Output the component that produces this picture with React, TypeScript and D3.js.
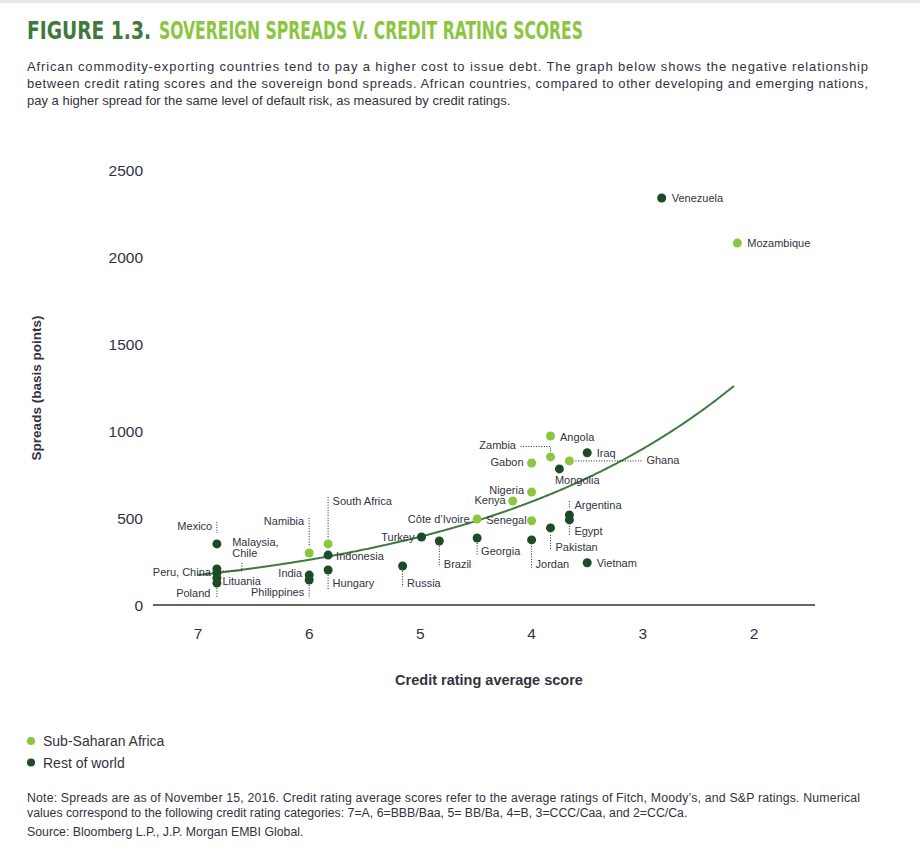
import React from "react";
import * as d3 from "d3";

// ---------- data ----------
const countries = [
  "Mozambique", "Angola", "Zambia", "Ghana", "Gabon", "Nigeria", "Kenya", "Senegal", "Côte d’Ivoire", "Namibia", "South Africa",
  "Venezuela", "Iraq", "Mongolia", "Argentina", "Egypt", "Pakistan", "Vietnam", "Jordan", "Georgia", "Brazil", "Turkey",
  "Russia", "Indonesia", "Hungary", "India", "Philippines", "Mexico", "Peru, China", "Malaysia, Chile", "Lituania", "Poland",
];
const ratingScores = [
  2.15, 3.83, 3.83, 3.66, 4.0, 4.0, 4.17, 4.0, 4.49, 6.0, 5.83,
  2.83, 3.5, 3.75, 3.66, 3.66, 3.83, 3.5, 4.0, 4.49, 4.83, 4.99,
  5.16, 5.83, 5.83, 6.0, 6.0, 6.83, 6.83, 6.83, 6.83, 6.83,
];
const spreads = [
  2080, 971, 851, 828, 816, 649, 598, 484, 494, 299, 351,
  2339, 875, 782, 517, 489, 443, 243, 374, 385, 368, 391,
  224, 287, 201, 172, 144, 351, 207, 184, 155, 126,
];
const regions = [
  "SSA", "SSA", "SSA", "SSA", "SSA", "SSA", "SSA", "SSA", "SSA", "SSA", "SSA",
  "ROW", "ROW", "ROW", "ROW", "ROW", "ROW", "ROW", "ROW", "ROW", "ROW", "ROW",
  "ROW", "ROW", "ROW", "ROW", "ROW", "ROW", "ROW", "ROW", "ROW", "ROW",
];
const xTicks = [7, 6, 5, 4, 3, 2];
const yTicks = [0, 500, 1000, 1500, 2000, 2500];
const legendLabels = ["Sub-Saharan Africa", "Rest of world"];
const legendKeys = ["SSA", "ROW"];
// exponential trend: spread = A * exp(B * (7 - score))
const trendA = 172;
const trendB = 0.413;
const trendDomain = [2.18, 7];

const titleLead = "FIGURE 1.3.";
const titleMain = "SOVEREIGN SPREADS V. CREDIT RATING SCORES";
const introLines = [
  "African commodity-exporting countries tend to pay a higher cost to issue debt. The graph below shows the negative relationship",
  "between credit rating scores and the sovereign bond spreads. African countries, compared to other developing and emerging nations,",
  "pay a higher spread for the same level of default risk, as measured by credit ratings.",
];
const noteLines = [
  "Note: Spreads are as of November 15, 2016. Credit rating average scores refer to the average ratings of Fitch, Moody’s, and S&P ratings. Numerical",
  "values correspond to the following credit rating categories: 7=A, 6=BBB/Baa, 5= BB/Ba, 4=B, 3=CCC/Caa, and 2=CC/Ca.",
  "Source: Bloomberg L.P., J.P. Morgan EMBI Global.",
];

// ---------- label layout (style, offsets from the dot) ----------
type Lay = { dx: number; dy: number; anchor: "start" | "end"; leader?: number[][]; lines?: string[] };
const layout: Record<string, Lay> = {
  Venezuela: { dx: 10, dy: 0, anchor: "start" },
  Mozambique: { dx: 10, dy: 0, anchor: "start" },
  Angola: { dx: 9.5, dy: 1, anchor: "start" },
  Zambia: { dx: -34.5, dy: -11.5, anchor: "end", leader: [[-30, -10.5], [0, -10.5], [0, -5]] },
  Ghana: { dx: 77, dy: -0.5, anchor: "start", leader: [[6, 0], [73, 0]] },
  Gabon: { dx: -8, dy: -1, anchor: "end" },
  Nigeria: { dx: -7.5, dy: -2, anchor: "end" },
  Kenya: { dx: -7, dy: -1, anchor: "end" },
  Senegal: { dx: -5, dy: -0.5, anchor: "end" },
  "Côte d’Ivoire": { dx: -7.5, dy: 0, anchor: "end" },
  Namibia: { dx: -5, dy: -32, anchor: "end", leader: [[0, -35], [0, -6]] },
  "South Africa": { dx: 4.5, dy: -42.5, anchor: "start", leader: [[0, -47], [0, -5]] },
  Iraq: { dx: 9.5, dy: 0, anchor: "start" },
  Mongolia: { dx: -4.5, dy: 11, anchor: "start" },
  Argentina: { dx: 5, dy: -10.5, anchor: "start", leader: [[0, -14], [0, -6]] },
  Egypt: { dx: 5, dy: 11.5, anchor: "start", leader: [[0, 6], [0, 16]] },
  Pakistan: { dx: 5, dy: 18.7, anchor: "start", leader: [[0, 7], [0, 22]] },
  Vietnam: { dx: 9.5, dy: 0, anchor: "start" },
  Jordan: { dx: 4, dy: 24, anchor: "start", leader: [[0, 6], [0, 29]] },
  Georgia: { dx: 4, dy: 13, anchor: "start", leader: [[0, 5], [0, 17]] },
  Brazil: { dx: 4.5, dy: 23, anchor: "start", leader: [[0, 5], [0, 26]] },
  Turkey: { dx: -7, dy: 0, anchor: "end" },
  Russia: { dx: 4.5, dy: 17, anchor: "start", leader: [[0, 5], [0, 21]] },
  Indonesia: { dx: 8, dy: 1, anchor: "start" },
  Hungary: { dx: 4.5, dy: 13, anchor: "start", leader: [[0, 5], [0, 20]] },
  India: { dx: -7, dy: -2, anchor: "end" },
  Philippines: { dx: -5, dy: 12, anchor: "end", leader: [[0, 5], [0, 17]] },
  Mexico: { dx: -4.7, dy: -18, anchor: "end", leader: [[0, -22], [0, -11]] },
  "Peru, China": { dx: -6, dy: 3.5, anchor: "end" },
  "Malaysia, Chile": { dx: 15.3, dy: -31.3, anchor: "start", lines: ["Malaysia,", "Chile"], leader: [[25, -10], [25, -2], [4, -2]] },
  Lituania: { dx: 5.5, dy: 3, anchor: "start" },
  Poland: { dx: -6.5, dy: 9.7, anchor: "end", leader: [[0, 5], [0, 15]] },
};

const COLORS: Record<string, string> = { SSA: "#8cc63f", ROW: "#1d4a27" };
const FONT = "'Liberation Sans', Arial, sans-serif";
const TITLE_FONT = "'Liberation Sans Narrow', 'DejaVu Sans Condensed', sans-serif";
const TEXT = "#333340";

export default function App() {
  const x = d3.scaleLinear().domain([7, 2]).range([198, 754]);
  const y = d3.scaleLinear().domain([0, 2500]).range([605, 170]);

  const trendPts = d3.range(trendDomain[0], trendDomain[1] + 0.0001, 0.02).map((s) => [s, trendA * Math.exp(trendB * (7 - s))] as [number, number]);
  const line = d3.line<[number, number]>().x((d) => x(d[0])).y((d) => y(d[1])).curve(d3.curveBasis);

  const points = countries.map((c, i) => ({ c, px: x(ratingScores[i]), py: y(spreads[i]), r: regions[i] }));

  return (
    <svg width={920} height={855} style={{ position: "absolute", left: 0, top: 0, background: "#fff" }} fontFamily={FONT}>
      <rect x={0} y={0} width={920} height={855} fill="#fff" />
      <rect x={0} y={0} width={920} height={3} fill="#e8e8e8" />
      {/* title */}
      <text x={27} y={39} fontSize={24} fontWeight={700} fontFamily={TITLE_FONT} fill="#3f7a3a" textLength={124} lengthAdjust="spacingAndGlyphs">
        {titleLead}
      </text>
      <text x={159} y={39} fontSize={24} fontWeight={700} fontFamily={TITLE_FONT} fill="#8cc63f" textLength={424} lengthAdjust="spacingAndGlyphs">
        {titleMain}
      </text>
      {introLines.map((t, i) => (
        <text key={i} x={27} y={71 + i * 17} fontSize={13} fill={TEXT} textLength={i < 2 ? 841 : undefined} lengthAdjust="spacing">
          {t}
        </text>
      ))}

      {/* y ticks */}
      {yTicks.map((t) => (
        <text key={t} x={143} y={y(t)} fontSize={15.5} fill={TEXT} textAnchor="end" dominantBaseline="central">
          {t}
        </text>
      ))}
      {/* x ticks */}
      {xTicks.map((t) => (
        <text key={t} x={x(t)} y={633} fontSize={15.5} fill={TEXT} textAnchor="middle" dominantBaseline="central">
          {t}
        </text>
      ))}
      <line x1={153} x2={815} y1={y(0)} y2={y(0)} stroke="#333" strokeWidth={1.3} />

      {/* axis titles */}
      <text x={489} y={680} fontSize={14.5} fontWeight={700} fill={TEXT} textAnchor="middle" dominantBaseline="central">
        Credit rating average score
      </text>
      <text transform="translate(36,388) rotate(-90)" fontSize={13.5} fontWeight={700} fill={TEXT} textAnchor="middle" dominantBaseline="central">
        Spreads (basis points)
      </text>

      {/* trend */}
      <path d={line(trendPts) || ""} fill="none" stroke="#3e7b3f" strokeWidth={2} />

      {/* dots */}
      {points.map((p) => (
        <circle key={p.c} cx={p.px} cy={p.py} r={4.5} fill={COLORS[p.r]} />
      ))}

      {/* leaders and labels */}
      {points.map((p) => {
        const l = layout[p.c];
        if (!l) return null;
        const lines = l.lines || [p.c];
        return (
          <g key={"l" + p.c}>
            {l.leader && (
              <polyline
                points={l.leader.map(([dx, dy]) => `${p.px + dx},${p.py + dy}`).join(" ")}
                fill="none"
                stroke="#222"
                strokeWidth={1}
                strokeDasharray="1,1.6"
              />
            )}
            {lines.map((t, k) => (
              <text
                key={k}
                x={p.px + l.dx}
                y={p.py + l.dy + k * 11.5}
                fontSize={11}
                fill={TEXT}
                textAnchor={l.anchor}
                dominantBaseline="central"
              >
                {t}
              </text>
            ))}
          </g>
        );
      })}

      {/* legend */}
      {legendLabels.map((t, i) => (
        <g key={t}>
          <circle cx={31} cy={741 + i * 21.5} r={4} fill={COLORS[legendKeys[i]]} />
          <text x={43} y={741 + i * 21.5} fontSize={14} fill={TEXT} dominantBaseline="central">
            {t}
          </text>
        </g>
      ))}

      {/* notes */}
      {noteLines.map((t, i) => (
        <text key={i} x={27} y={[802, 817, 836][i]} fontSize={12.3} fill={TEXT} textLength={i === 0 ? 833 : undefined} lengthAdjust="spacing">
          {t}
        </text>
      ))}
    </svg>
  );
}
